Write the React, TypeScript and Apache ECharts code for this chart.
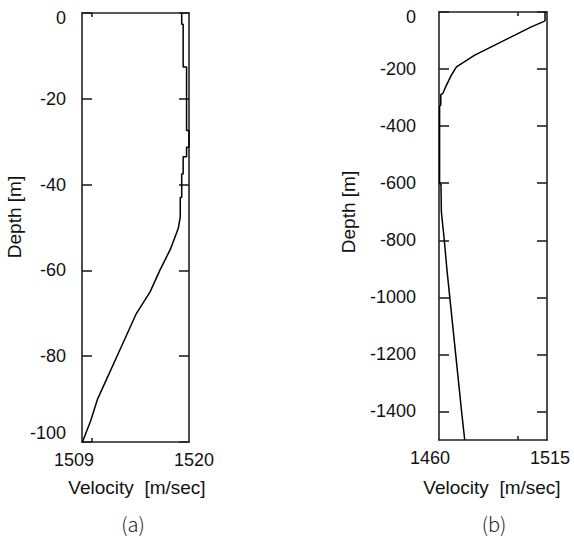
import React, { useEffect, useRef } from "react";
import * as echarts from "echarts";

// (a) shallow profile: [velocity m/s, depth m]
const velocityA = [1519.25, 1519.25, 1519.4, 1519.4, 1519.75, 1519.75, 1520.0, 1520.0, 1519.75, 1519.75, 1519.4, 1519.4, 1519.25, 1519.25, 1519.1, 1519.1, 1518.9, 1518.6, 1518.1, 1517.0, 1516.0, 1514.6, 1513.6, 1512.6, 1511.6, 1510.6, 1509.9, 1509.05];
const depthA = [0, -2.6, -2.6, -12.6, -12.6, -27.4, -27.4, -31.3, -31.3, -33.5, -33.5, -37.5, -37.5, -43, -43, -47.5, -50.2, -52, -55, -60, -65, -70, -75, -80, -85, -90, -95, -100];

// (b) deep profile
const velocityB = [1514.0, 1514.0, 1513.8, 1507.0, 1498.6, 1488.4, 1478.2, 1468.9, 1466.3, 1463.8, 1462.0, 1460.9, 1460.9, 1460.3, 1460.3, 1461.0, 1461.2, 1462.7, 1464.0, 1465.5, 1467.0, 1468.5, 1470.0, 1471.5, 1473.1];
const depthB = [0, -28, -32, -52, -81, -116, -151, -192, -221, -256, -285, -290, -326, -330, -600, -605, -700, -800, -900, -1000, -1100, -1200, -1300, -1400, -1500];

const xTicksA = [1510];
const xLabelsA = [1509, 1520];
const xTicksB = [1500];
const xLabelsB = [1460, 1515];
const yTicksB = [0, -200, -400, -600, -800, -1000, -1200, -1400];

const FONT = "Liberation Sans";
const AXIS = "#222";

export default function App() {
  const ref = useRef<HTMLDivElement>(null);
  useEffect(() => {
    document.body.style.margin = "0";
    if (!ref.current) return;
    const chart = echarts.init(ref.current, undefined, { renderer: "svg" });

    const lineStyle = { color: AXIS, width: 1.6 };
    const txt = { fontSize: 18, fontFamily: FONT, color: "#111" };
    const xLabelStyle = (first: number, shiftL: number, shiftR: number) => ({
      show: true,
      margin: 9,
      ...txt,
      formatter: (v: any, i: number) => {
        const n = Math.round(Number(v));
        return n === first ? `{l|${n}}` : `{r|${n}}`;
      },
      rich: {
        l: { ...txt, padding: [0, shiftL * 2, 0, 0] },
        r: { ...txt, padding: [0, 0, 0, shiftR * 2] },
      },
    });
    const yRich = {
      t: { ...txt, padding: [10, 0, 0, 0] },
      b: { ...txt, padding: [0, 0, 18, 0] },
    };
    const yFmt = (v: any) => {
      const n = Math.round(Number(v));
      return n === 0 ? `{t|0}` : n === -100 ? `{b|-100}` : `${n}`;
    };

    const option: any = {
      animation: false,
      textStyle: { fontFamily: FONT },
      grid: [
        { left: 82, top: 13, width: 107, height: 429 },
        { left: 439, top: 12, width: 108, height: 428 },
      ],
      xAxis: [
        {
          gridIndex: 0, type: "value", min: 1509, max: 1520, position: "bottom",
          axisLine: { show: true, onZero: false, lineStyle },
          axisTick: { show: true, inside: true, length: 4, customValues: xTicksA, lineStyle },
          axisLabel: { ...xLabelStyle(1509, 8, 5), customValues: xLabelsA, showMinLabel: true, showMaxLabel: true },
          splitLine: { show: false },
        },
        {
          gridIndex: 0, type: "value", min: 1509, max: 1520, position: "top",
          axisLine: { show: true, onZero: false, lineStyle },
          axisTick: { show: true, inside: true, length: 4, customValues: xTicksA, lineStyle },
          axisLabel: { show: false },
          splitLine: { show: false },
        },
        {
          gridIndex: 1, type: "value", min: 1460, max: 1515, position: "bottom",
          axisLine: { show: true, onZero: false, lineStyle },
          axisTick: { show: true, inside: true, length: 4, customValues: xTicksB, lineStyle },
          axisLabel: { ...xLabelStyle(1460, 9, 3), customValues: xLabelsB, showMinLabel: true, showMaxLabel: true },
          splitLine: { show: false },
        },
        {
          gridIndex: 1, type: "value", min: 1460, max: 1515, position: "top",
          axisLine: { show: true, onZero: false, lineStyle },
          axisTick: { show: true, inside: true, length: 4, customValues: xTicksB, lineStyle },
          axisLabel: { show: false },
          splitLine: { show: false },
        },
      ],
      yAxis: [
        {
          gridIndex: 0, type: "value", min: -100, max: 0, interval: 20, position: "left",
          axisLine: { show: true, onZero: false, lineStyle },
          axisTick: { show: true, inside: true, length: 10, lineStyle },
          axisLabel: { margin: 16, ...txt, formatter: yFmt, rich: yRich },
          splitLine: { show: false },
        },
        {
          gridIndex: 0, type: "value", min: -100, max: 0, interval: 20, position: "right",
          axisLine: { show: true, onZero: false, lineStyle },
          axisTick: { show: true, inside: true, length: 10, lineStyle },
          axisLabel: { show: false },
          splitLine: { show: false },
        },
        {
          gridIndex: 1, type: "value", min: -1500, max: 0, position: "left",
          axisLine: { show: true, onZero: false, lineStyle },
          axisTick: { show: true, inside: true, length: 10, customValues: yTicksB, lineStyle },
          axisLabel: { margin: 23, ...txt, customValues: yTicksB, formatter: yFmt, rich: yRich },
          splitLine: { show: false },
        },
        {
          gridIndex: 1, type: "value", min: -1500, max: 0, position: "right",
          axisLine: { show: true, onZero: false, lineStyle },
          axisTick: { show: true, inside: true, length: 10, customValues: yTicksB, lineStyle },
          axisLabel: { show: false },
          splitLine: { show: false },
        },
      ],
      series: [
        {
          type: "line", xAxisIndex: 0, yAxisIndex: 0, showSymbol: false, symbol: "none",
          lineStyle: { color: "#000", width: 1.5 },
          data: velocityA.map((v, i) => [v, depthA[i]]),
        },
        {
          type: "line", xAxisIndex: 2, yAxisIndex: 2, showSymbol: false, symbol: "none",
          lineStyle: { color: "#000", width: 1.5 },
          data: velocityB.map((v, i) => [v, depthB[i]]),
        },
      ],
      graphic: [
        { type: "text", x: 14, y: 217, rotation: Math.PI / 2, style: { text: "Depth [m]", fontSize: 19, fontFamily: FONT, fill: "#111", align: "center", verticalAlign: "middle" } },
        { type: "text", x: 348, y: 212, rotation: Math.PI / 2, style: { text: "Depth [m]", fontSize: 19, fontFamily: FONT, fill: "#111", align: "center", verticalAlign: "middle" } },
        { type: "text", x: 137, y: 487, style: { text: "Velocity  [m/sec]", fontSize: 19, fontFamily: FONT, fill: "#111", align: "center", verticalAlign: "middle" } },
        { type: "text", x: 492, y: 487, style: { text: "Velocity  [m/sec]", fontSize: 19, fontFamily: FONT, fill: "#111", align: "center", verticalAlign: "middle" } },
        { type: "text", x: 133, y: 523, style: { text: "(a)", fontSize: 20, fontFamily: "Noto Sans CJK KR", fontWeight: 300, fill: "#222", align: "center", verticalAlign: "middle" } },
        { type: "text", x: 494, y: 523, style: { text: "(b)", fontSize: 20, fontFamily: "Noto Sans CJK KR", fontWeight: 300, fill: "#222", align: "center", verticalAlign: "middle" } },
      ],
    };
    chart.setOption(option);
    return () => chart.dispose();
  }, []);
  return <div ref={ref} style={{ width: 574, height: 537 }} />;
}
